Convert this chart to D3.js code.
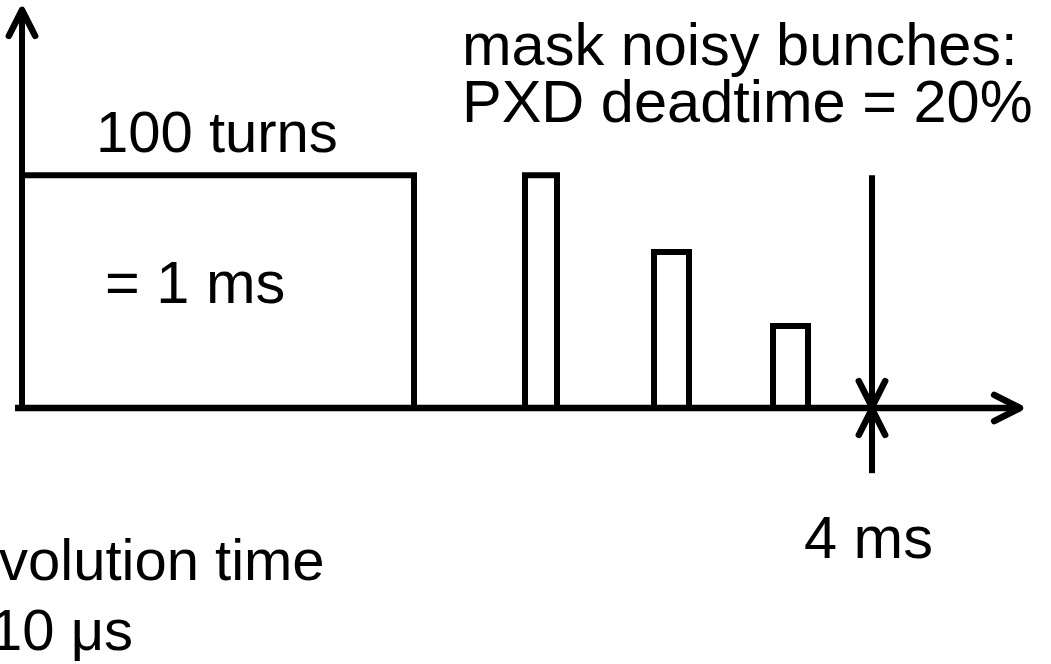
<!DOCTYPE html>
<html>
<head>
<meta charset="utf-8">
<script src="https://cdn.jsdelivr.net/npm/d3@7"></script>
<style>
  html, body { margin: 0; padding: 0; background: #fff; }
  svg { display: block; }
  text { font-family: "Liberation Sans", Arial, sans-serif; font-size: 58px; fill: #000; }
  text.big { font-size: 59.5px; }
</style>
</head>
<body>
<svg id="chart" width="1051" height="664"></svg>
<script>
// readout frame: one long 100-turn block, then three masked noisy bunches
const blocks = ["100 turns", "bunch 1", "bunch 2", "bunch 3"]
const block_start = [0, 50.3, 63.2, 75.1]
const block_end = [39.2, 53.5, 66.7, 78.6]
const block_level = [58.2, 58.2, 39, 20.5]
const marker_time = 85   // 4 ms
const axis_extent = {x: [-0.7, 99.8], y: [0, 99.5]}

const top_lines = ["mask noisy bunches:", "PXD deadtime = 20%"]
const bottom_lines = ["volution time", "10 μs"]
const block_label = "100 turns"
const block_value = "= 1 ms"
const marker_label = "4 ms"

let width = 1051,
  height = 664,
  scales = {
    x: d3.scaleLinear().domain([0, 100]).range([22, 1022]),
    y: d3.scaleLinear().domain([0, 100]).range([408, 8])
  }

let svg = d3.select("#chart")

function arrow_head(g, tip, angle) {
  // open chevron pointing along angle (radians)
  let len = 29, spread = 0.47
  let a1 = angle + Math.PI - spread, a2 = angle + Math.PI + spread
  g.append("path")
    .attr("d", `M${tip[0] + len * Math.cos(a1)},${tip[1] + len * Math.sin(a1)}L${tip[0]},${tip[1]}L${tip[0] + len * Math.cos(a2)},${tip[1] + len * Math.sin(a2)}`)
    .attr("fill", "none")
    .attr("stroke", "#000")
    .attr("stroke-width", 6.5)
    .attr("stroke-linecap", "round")
    .attr("stroke-linejoin", "round")
}

function draw_blocks() {
  let data = blocks.map((name, i) => ({name, x0: block_start[i], x1: block_end[i], h: block_level[i]}))
  svg.append("g")
    .selectAll("path")
    .data(data).enter()
    .append("path")
    .attr("d", d => {
      let p = d3.path()
      p.moveTo(scales.x(d.x0), scales.y(0))
      p.lineTo(scales.x(d.x0), scales.y(d.h))
      p.lineTo(scales.x(d.x1), scales.y(d.h))
      p.lineTo(scales.x(d.x1), scales.y(0))
      return p.toString()
    })
    .attr("fill", "none")
    .attr("stroke", "#000")
    .attr("stroke-width", 6)
    .attr("stroke-linejoin", "miter")
}

function draw_axes() {
  let g = svg.append("g")
  let x0 = scales.x(axis_extent.x[0]), x1 = scales.x(axis_extent.x[1])
  let y0 = scales.y(0), ytop = scales.y(axis_extent.y[1])
  g.append("line")
    .attr("x1", x0).attr("x2", x1)
    .attr("y1", y0).attr("y2", y0)
    .attr("stroke", "#000").attr("stroke-width", 6.5)
  arrow_head(g, [x1, y0], 0)

  g.append("line")
    .attr("x1", scales.x(0)).attr("x2", scales.x(0))
    .attr("y1", y0 + 2).attr("y2", ytop)
    .attr("stroke", "#000").attr("stroke-width", 6)
  arrow_head(g, [scales.x(0), ytop], -Math.PI / 2)
}

function draw_marker() {
  let g = svg.append("g")
  let mx = scales.x(marker_time)
  let y0 = scales.y(0)
  // arrow from above down to the axis
  g.append("line")
    .attr("x1", mx).attr("x2", mx)
    .attr("y1", scales.y(block_level[0])).attr("y2", y0)
    .attr("stroke", "#000").attr("stroke-width", 6)
  arrow_head(g, [mx, y0 - 1], Math.PI / 2)
  // arrow from below up to the axis
  g.append("line")
    .attr("x1", mx).attr("x2", mx)
    .attr("y1", scales.y(-16.3)).attr("y2", y0)
    .attr("stroke", "#000").attr("stroke-width", 6)
  arrow_head(g, [mx, y0 + 1], -Math.PI / 2)
}

function draw_text() {
  svg.append("text").attr("x", 96).attr("y", 152).text(block_label)
  svg.append("text").attr("class", "big").attr("x", 105).attr("y", 303).text(block_value)
  svg.append("text").attr("class", "big").attr("x", 804).attr("y", 558).text(marker_label)

  svg.append("g")
    .selectAll("text")
    .data(top_lines).enter()
    .append("text")
    .attr("class", "big")
    .attr("x", 462)
    .attr("y", (d, i) => 65 + i * 57)
    .text(d => d)

  svg.append("g")
    .selectAll("text")
    .data(bottom_lines).enter()
    .append("text")
    .attr("x", (d, i) => i == 0 ? -1 : -10)
    .attr("y", (d, i) => 580 + i * 70)
    .text(d => d)
}

draw_blocks()
draw_axes()
draw_marker()
draw_text()
</script>
</body>
</html>
